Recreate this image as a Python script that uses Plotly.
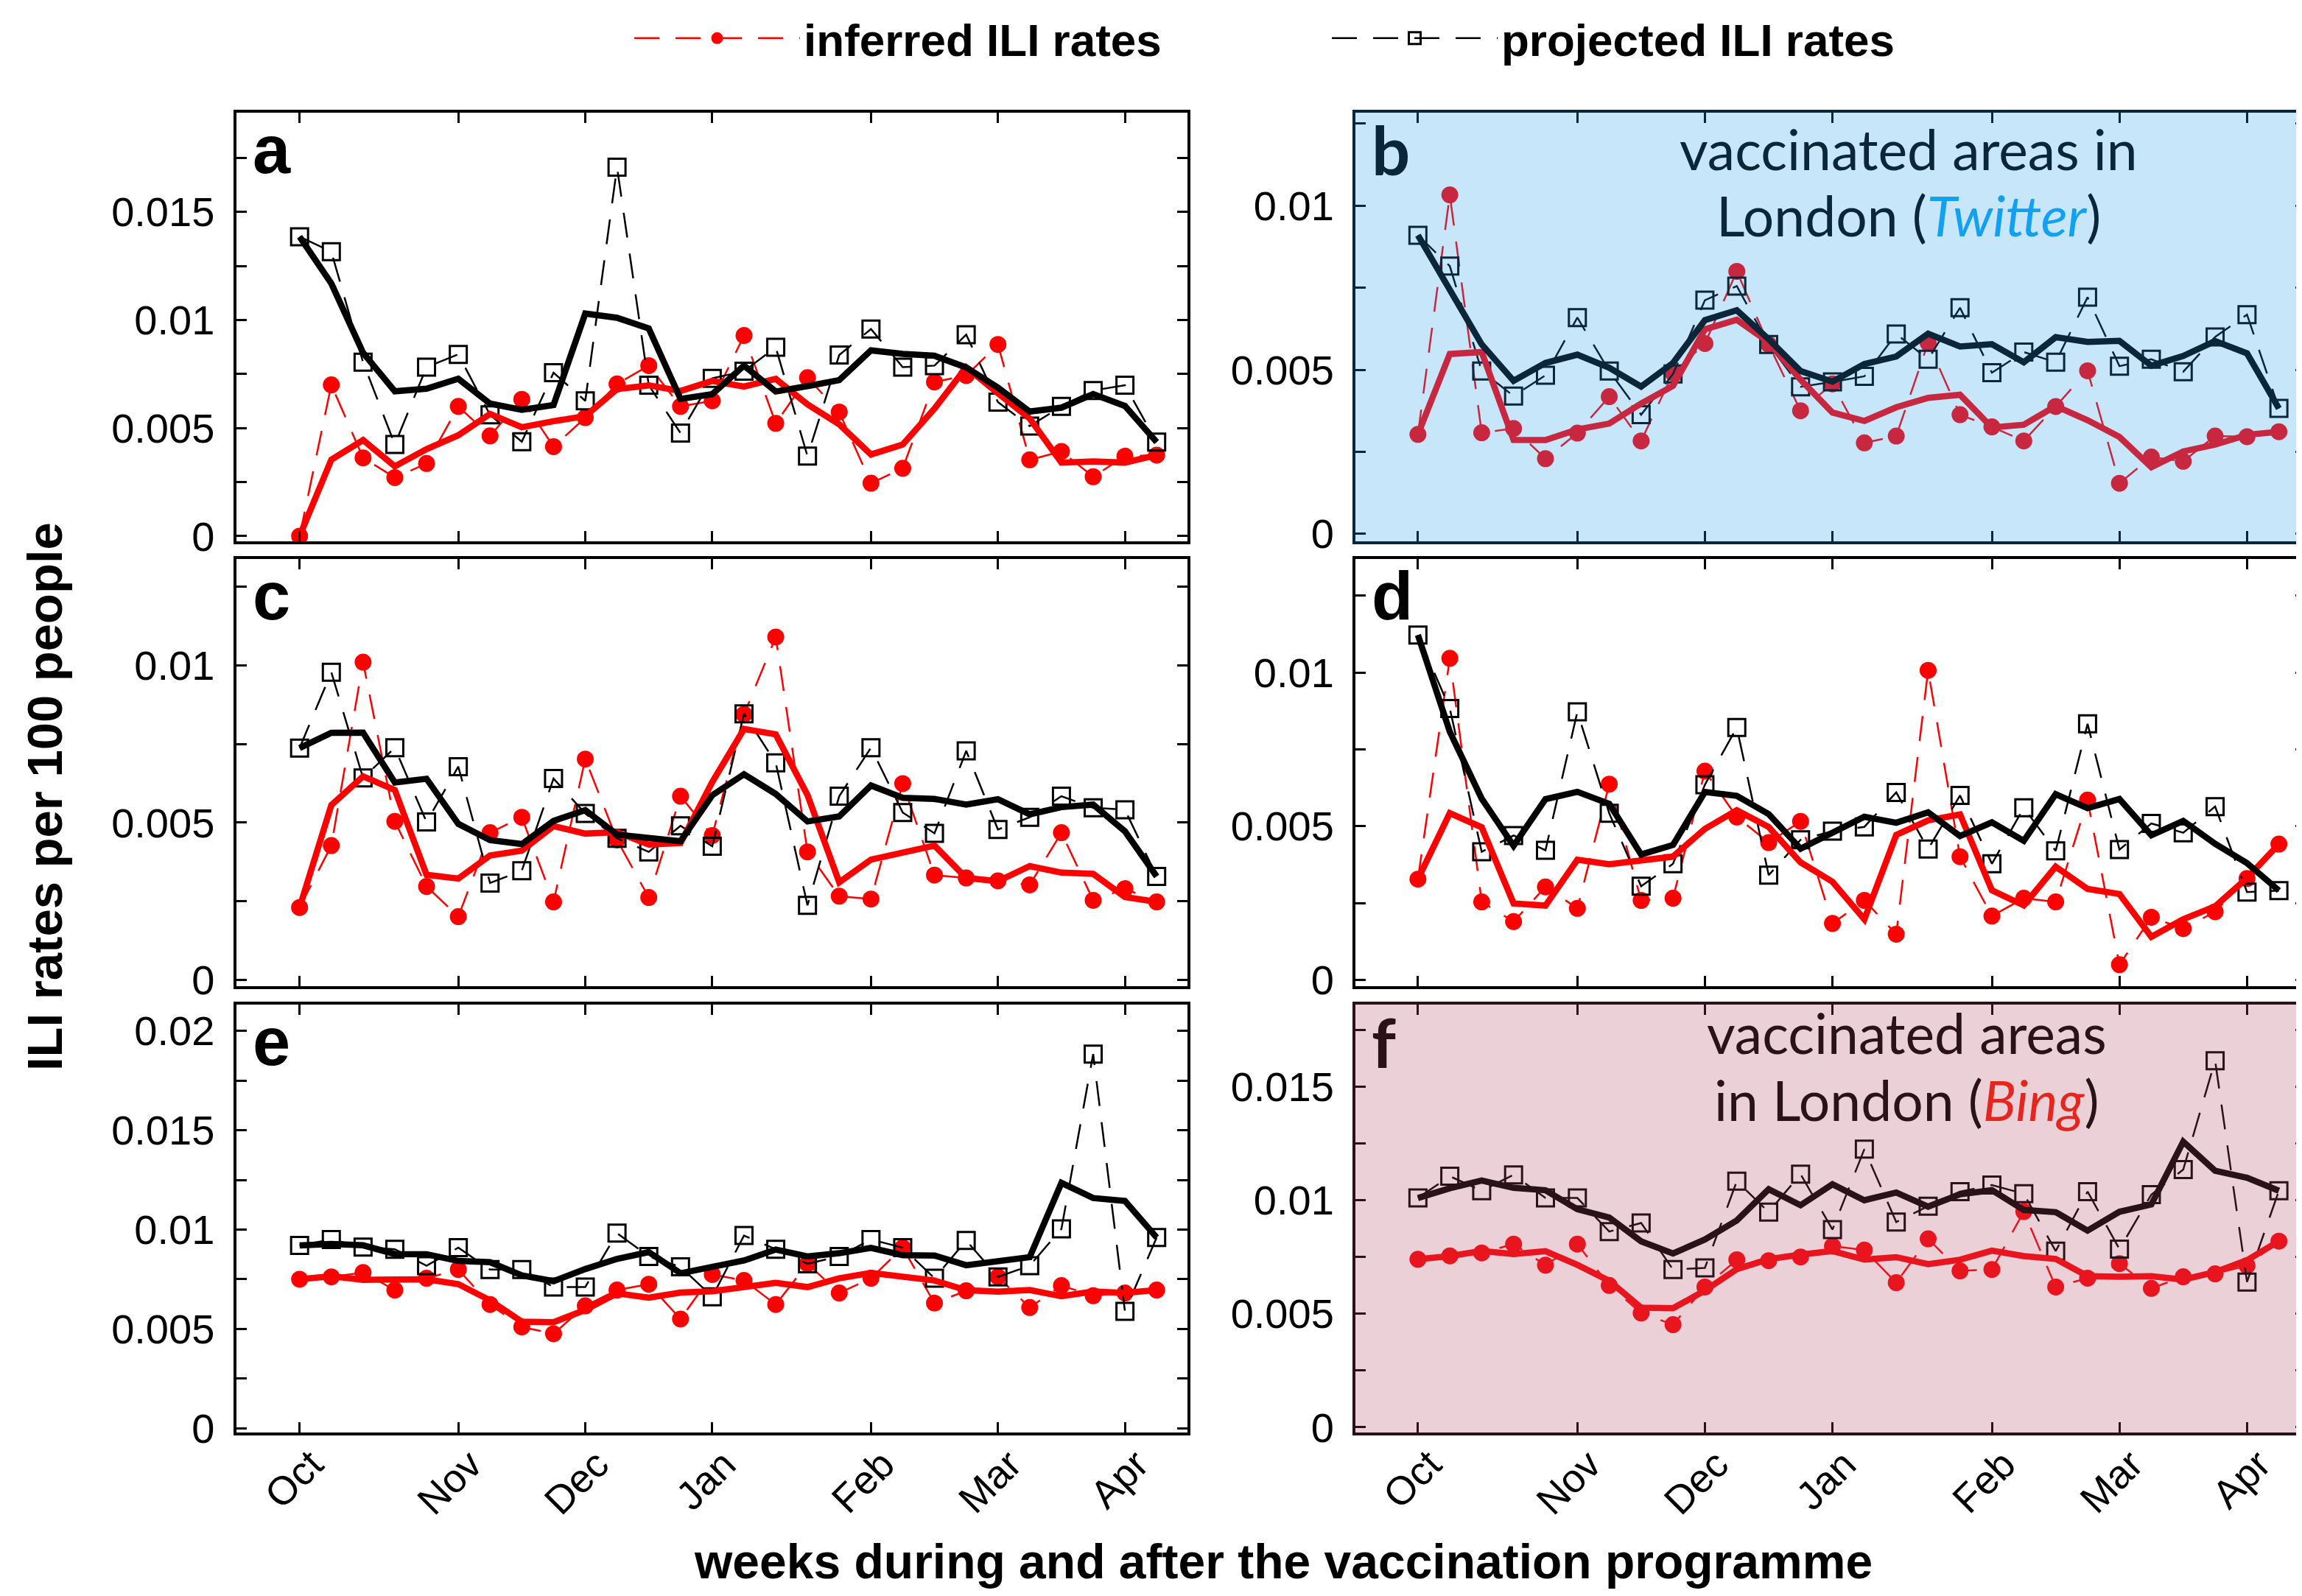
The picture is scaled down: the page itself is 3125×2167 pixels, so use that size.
import plotly.graph_objects as go

# ---------------- data ----------------
weeks = list(range(28))
month_tickvals = [0, 5, 9, 13, 18, 22, 26]
month_labels = ['Oct', 'Nov', 'Dec', 'Jan', 'Feb', 'Mar', 'Apr']

a_inferred = [0.0, 0.0070, 0.00362, 0.00271, 0.00336, 0.0060, 0.00464, 0.00633, 0.00414, 0.00548,
              0.00704, 0.00789, 0.0060, 0.00626, 0.00928, 0.00522, 0.00733, 0.00574, 0.00245, 0.00314,
              0.00713, 0.00743, 0.00887, 0.00353, 0.00392, 0.00275, 0.0037, 0.00375]
a_projected = [0.01385, 0.01316, 0.00805, 0.00424, 0.00782, 0.00841, 0.00561, 0.00437, 0.00756, 0.00626,
               0.01707, 0.00698, 0.00477, 0.0073, 0.00763, 0.00874, 0.0037, 0.00838, 0.00958, 0.00782,
               0.00789, 0.00932, 0.0062, 0.00509, 0.006, 0.00674, 0.00698, 0.00435]

b_inferred = [0.00303, 0.01033, 0.00308, 0.00321, 0.00229, 0.00307, 0.00418, 0.00283, 0.0049, 0.0058,
              0.008, 0.00577, 0.00375, 0.00457, 0.00277, 0.00298, 0.00582, 0.00363, 0.00326, 0.00283,
              0.00388, 0.00497, 0.00154, 0.00234, 0.00221, 0.00298, 0.00296, 0.00311]
b_projected = [0.0091, 0.00816, 0.00496, 0.0042, 0.00483, 0.00659, 0.00496, 0.00363, 0.00487, 0.00712,
               0.00755, 0.00577, 0.00448, 0.00463, 0.0048, 0.00609, 0.00532, 0.00689, 0.00491, 0.00554,
               0.00523, 0.00721, 0.00511, 0.00532, 0.00494, 0.006, 0.00668, 0.00382]

c_inferred = [0.0023, 0.00427, 0.0101, 0.00504, 0.00297, 0.00201, 0.00468, 0.00517, 0.00248, 0.00702,
              0.00445, 0.00262, 0.00584, 0.00459, 0.00844, 0.0109, 0.00407, 0.00266, 0.00257, 0.00624,
              0.00333, 0.00324, 0.00315, 0.00302, 0.00468, 0.00253, 0.0029, 0.00248]
c_projected = [0.00737, 0.00978, 0.00642, 0.00738, 0.00502, 0.00678, 0.00308, 0.00347, 0.0064, 0.00529,
               0.0045, 0.00407, 0.0049, 0.00425, 0.00846, 0.0069, 0.00237, 0.00584, 0.00738, 0.00532,
               0.00466, 0.00728, 0.00478, 0.00517, 0.00584, 0.00547, 0.00541, 0.00329]

d_inferred = [0.00328, 0.01046, 0.00254, 0.0019, 0.00303, 0.00233, 0.00637, 0.00259, 0.00266, 0.00679,
              0.0053, 0.00447, 0.00516, 0.00184, 0.00259, 0.00149, 0.01007, 0.00401, 0.00208, 0.00266,
              0.00254, 0.00585, 0.0005, 0.00204, 0.00167, 0.00222, 0.0033, 0.00442]
d_projected = [0.01122, 0.00883, 0.00417, 0.0047, 0.00422, 0.00872, 0.00542, 0.00305, 0.00378, 0.00635,
               0.00821, 0.00341, 0.00456, 0.00484, 0.00498, 0.0061, 0.00426, 0.006, 0.00378, 0.0056,
               0.0042, 0.00833, 0.00424, 0.00509, 0.00479, 0.00564, 0.00286, 0.00291]

e_inferred = [0.0075, 0.00762, 0.00784, 0.00696, 0.00755, 0.00799, 0.00623, 0.0051, 0.00476, 0.00616,
              0.00696, 0.00725, 0.0055, 0.00774, 0.00744, 0.00623, 0.00828, 0.00681, 0.00755, 0.00909,
              0.0063, 0.00692, 0.00762, 0.00608, 0.00718, 0.00667, 0.00681, 0.00696]
e_projected = [0.0092, 0.0095, 0.00912, 0.00901, 0.00818, 0.00909, 0.00799, 0.00799, 0.00711, 0.00711,
               0.00982, 0.00865, 0.00813, 0.00662, 0.0097, 0.00901, 0.00828, 0.00865, 0.0095, 0.00909,
               0.00755, 0.00945, 0.00762, 0.00818, 0.01004, 0.01883, 0.00589, 0.0096]

f_inferred = [0.0074, 0.00755, 0.00768, 0.00807, 0.00714, 0.00807, 0.00625, 0.00503, 0.00452, 0.00618,
              0.00738, 0.00734, 0.0075, 0.00798, 0.00781, 0.00637, 0.0083, 0.00689, 0.00695, 0.0095,
              0.00618, 0.00657, 0.00721, 0.00612, 0.00663, 0.00676, 0.00712, 0.0082]
f_projected = [0.0101, 0.01106, 0.01042, 0.01112, 0.0101, 0.0101, 0.00862, 0.009, 0.00695, 0.00702,
               0.01084, 0.00948, 0.01115, 0.00871, 0.01225, 0.00904, 0.00974, 0.01038, 0.01067, 0.01029,
               0.00776, 0.01038, 0.00785, 0.01025, 0.01135, 0.01615, 0.0064, 0.01042]


def smooth3(v):
    """3-point centred moving average, end points kept (MATLAB smooth, span 3)."""
    out = list(v)
    for i in range(1, len(v) - 1):
        out[i] = (v[i - 1] + v[i] + v[i + 1]) / 3.0
    return out


# ---------------- layout geometry ----------------
W, H = 3125, 2167
col_px = [(312.5, 1604.0), (1832.0, 3122.0)]
row_px = [(145.0, 727.0), (751.0, 1331.0), (1356.0, 1937.0)]
x_ranges = [(-2.0, 27.97), (-1.96, 27.84)]

FONT = "Liberation Sans, Arial, Helvetica, sans-serif"

panels = [
    dict(letter='a', inf=a_inferred, proj=a_projected, yr=(-0.00024, 0.01959), ymax=0.0175,
         red='#ff0000', dark='#000000', bg=None, letter_font=FONT),
    dict(letter='b', inf=b_inferred, proj=b_projected, yr=(-0.00023, 0.012836), ymax=0.0125,
         red='#c8283f', dark='#0b2539', bg='#c8e6fa', letter_font='Lato'),
    dict(letter='c', inf=c_inferred, proj=c_projected, yr=(-0.0002, 0.01338), ymax=0.0125,
         red='#ff0000', dark='#000000', bg=None, letter_font=FONT),
    dict(letter='d', inf=d_inferred, proj=d_projected, yr=(-0.0002, 0.01369), ymax=0.0125,
         red='#ff0000', dark='#000000', bg=None, letter_font=FONT),
    dict(letter='e', inf=e_inferred, proj=e_projected, yr=(-0.00021, 0.02132), ymax=0.02,
         red='#ff0000', dark='#000000', bg=None, letter_font=FONT),
    dict(letter='f', inf=f_inferred, proj=f_projected, yr=(-0.00023, 0.01862), ymax=0.0175,
         red='#e8141e', dark='#2a1219', bg='#ecd0d8', letter_font='Lato'),
]

fig = go.Figure()
layout = dict(
    width=W, height=H,
    margin=dict(l=0, r=0, t=0, b=0, autoexpand=False),
    paper_bgcolor='white', plot_bgcolor='rgba(0,0,0,0)',
    font=dict(family=FONT, size=56, color='black'),
    showlegend=True,
    legend=dict(orientation='h', x=848 / W, xanchor='left', y=1 - 44 / H, yanchor='middle',
                font=dict(family=FONT, size=62, color='black', weight='bold'),
                itemwidth=225, entrywidth=707, entrywidthmode='pixels',
                bgcolor='rgba(0,0,0,0)', traceorder='normal'),
)
shapes = []
annotations = []

DASH = '34px,22px'

for k, p in enumerate(panels):
    idx = k + 1
    col, row = k % 2, k // 2
    xa = 'x' if idx == 1 else f'x{idx}'
    ya = 'y' if idx == 1 else f'y{idx}'
    x0p, x1p = col_px[col]
    y0p, y1p = row_px[row]

    # thin dashed series with markers
    fig.add_trace(go.Scatter(
        x=weeks, y=p['inf'], xaxis=xa, yaxis=ya, mode='lines+markers',
        line=dict(color=p['red'], width=2.5, dash=DASH),
        marker=dict(symbol='circle', size=23, color=p['red']),
        name='inferred ILI rates', showlegend=(idx == 1), legendgroup='inf'))
    fig.add_trace(go.Scatter(
        x=weeks, y=p['proj'], xaxis=xa, yaxis=ya, mode='lines+markers',
        line=dict(color=p['dark'], width=2.5, dash=DASH),
        marker=dict(symbol='square-open', size=23, color=p['dark'], line=dict(width=3, color=p['dark'])),
        name='projected ILI rates', showlegend=(idx == 1), legendgroup='proj'))
    # smoothed thick lines
    fig.add_trace(go.Scatter(
        x=weeks, y=smooth3(p['inf']), xaxis=xa, yaxis=ya, mode='lines',
        line=dict(color=p['red'], width=8.5), showlegend=False, hoverinfo='skip'))
    fig.add_trace(go.Scatter(
        x=weeks, y=smooth3(p['proj']), xaxis=xa, yaxis=ya, mode='lines',
        line=dict(color=p['dark'], width=8.5), showlegend=False, hoverinfo='skip'))

    # y ticks every 0.0025, labels every 0.005
    yt, ytt = [], []
    n = 0
    while n * 0.0025 <= p['ymax'] + 1e-9:
        v = round(n * 0.0025, 4)
        yt.append(v)
        ytt.append(f"{v:g}" if n % 2 == 0 else '')
        n += 1

    axcol = p['dark']
    key_x = 'xaxis' if idx == 1 else f'xaxis{idx}'
    key_y = 'yaxis' if idx == 1 else f'yaxis{idx}'
    layout[key_x] = dict(
        domain=[x0p / W, x1p / W], range=list(x_ranges[col]), anchor=ya,
        tickmode='array', tickvals=month_tickvals, ticktext=month_labels,
        showticklabels=(row == 2), tickangle=-45, ticklabelshift=16, ticklabelstandoff=-14,
        tickfont=dict(family=FONT, size=54, color='black'),
        ticks='inside', ticklen=14, tickwidth=3, tickcolor=axcol,
        showline=True, linewidth=4, linecolor=axcol, mirror='ticks',
        showgrid=False, zeroline=False, fixedrange=True)
    layout[key_y] = dict(
        domain=[1 - y1p / H, 1 - y0p / H], range=list(p['yr']), anchor=xa,
        tickmode='array', tickvals=yt, ticktext=ytt,
        tickfont=dict(family=FONT, size=56, color='black'), ticklabelstandoff=14,
        ticks='inside', ticklen=14, tickwidth=3, tickcolor=axcol,
        showline=True, linewidth=4, linecolor=axcol, mirror='ticks',
        showgrid=False, zeroline=False, fixedrange=True)

    if p['bg']:
        shapes.append(dict(type='rect', xref=f'{xa} domain', yref=f'{ya} domain',
                           x0=0, x1=1, y0=0, y1=1, fillcolor=p['bg'], line=dict(width=0),
                           layer='below'))

    # panel letter
    center = y0p + 50
    annotations.append(dict(
        text=f"<b>{p['letter']}</b>", xref='paper', yref='paper',
        x=(x0p + 20) / W, y=1 - center / H, xanchor='left', yanchor='middle',
        showarrow=False, font=dict(family=p['letter_font'], size=92, color=p['dark'])))

# titles inside panels b and f
annotations += [
    dict(text='vaccinated areas in', xref='paper', yref='paper', x=2583 / W, y=1 - 194 / H,
         xanchor='center', yanchor='middle', showarrow=False,
         font=dict(family='Lato', size=75, color='#0b2539')),
    dict(text="London (<i><span style='color:#12a0f0'>Twitter</span></i>)", xref='paper', yref='paper',
         x=2583 / W, y=1 - 284 / H, xanchor='center', yanchor='middle', showarrow=False,
         font=dict(family='Lato', size=75, color='#0b2539')),
    dict(text='vaccinated areas', xref='paper', yref='paper', x=2580 / W, y=1 - 1394 / H,
         xanchor='center', yanchor='middle', showarrow=False,
         font=dict(family='Lato', size=75, color='#2a1219')),
    dict(text="in London (<i><span style='color:#e4261e'>Bing</span></i>)", xref='paper', yref='paper',
         x=2580 / W, y=1 - 1485 / H, xanchor='center', yanchor='middle', showarrow=False,
         font=dict(family='Lato', size=75, color='#2a1219')),
    # axis titles
    dict(text='<b>ILI rates per 100 people</b>', xref='paper', yref='paper', x=52 / W, y=1 - 1074 / H,
         xanchor='center', yanchor='middle', textangle=-90, showarrow=False,
         font=dict(family=FONT, size=67, color='black')),
    dict(text='<b>weeks during and after the vaccination programme</b>', xref='paper', yref='paper',
         x=1734 / W, y=1 - 2112 / H, xanchor='center', yanchor='middle', showarrow=False,
         font=dict(family=FONT, size=66, color='black')),
]

layout['shapes'] = shapes
layout['annotations'] = annotations
fig.update_layout(**layout)

fig.write_html("out.html")
